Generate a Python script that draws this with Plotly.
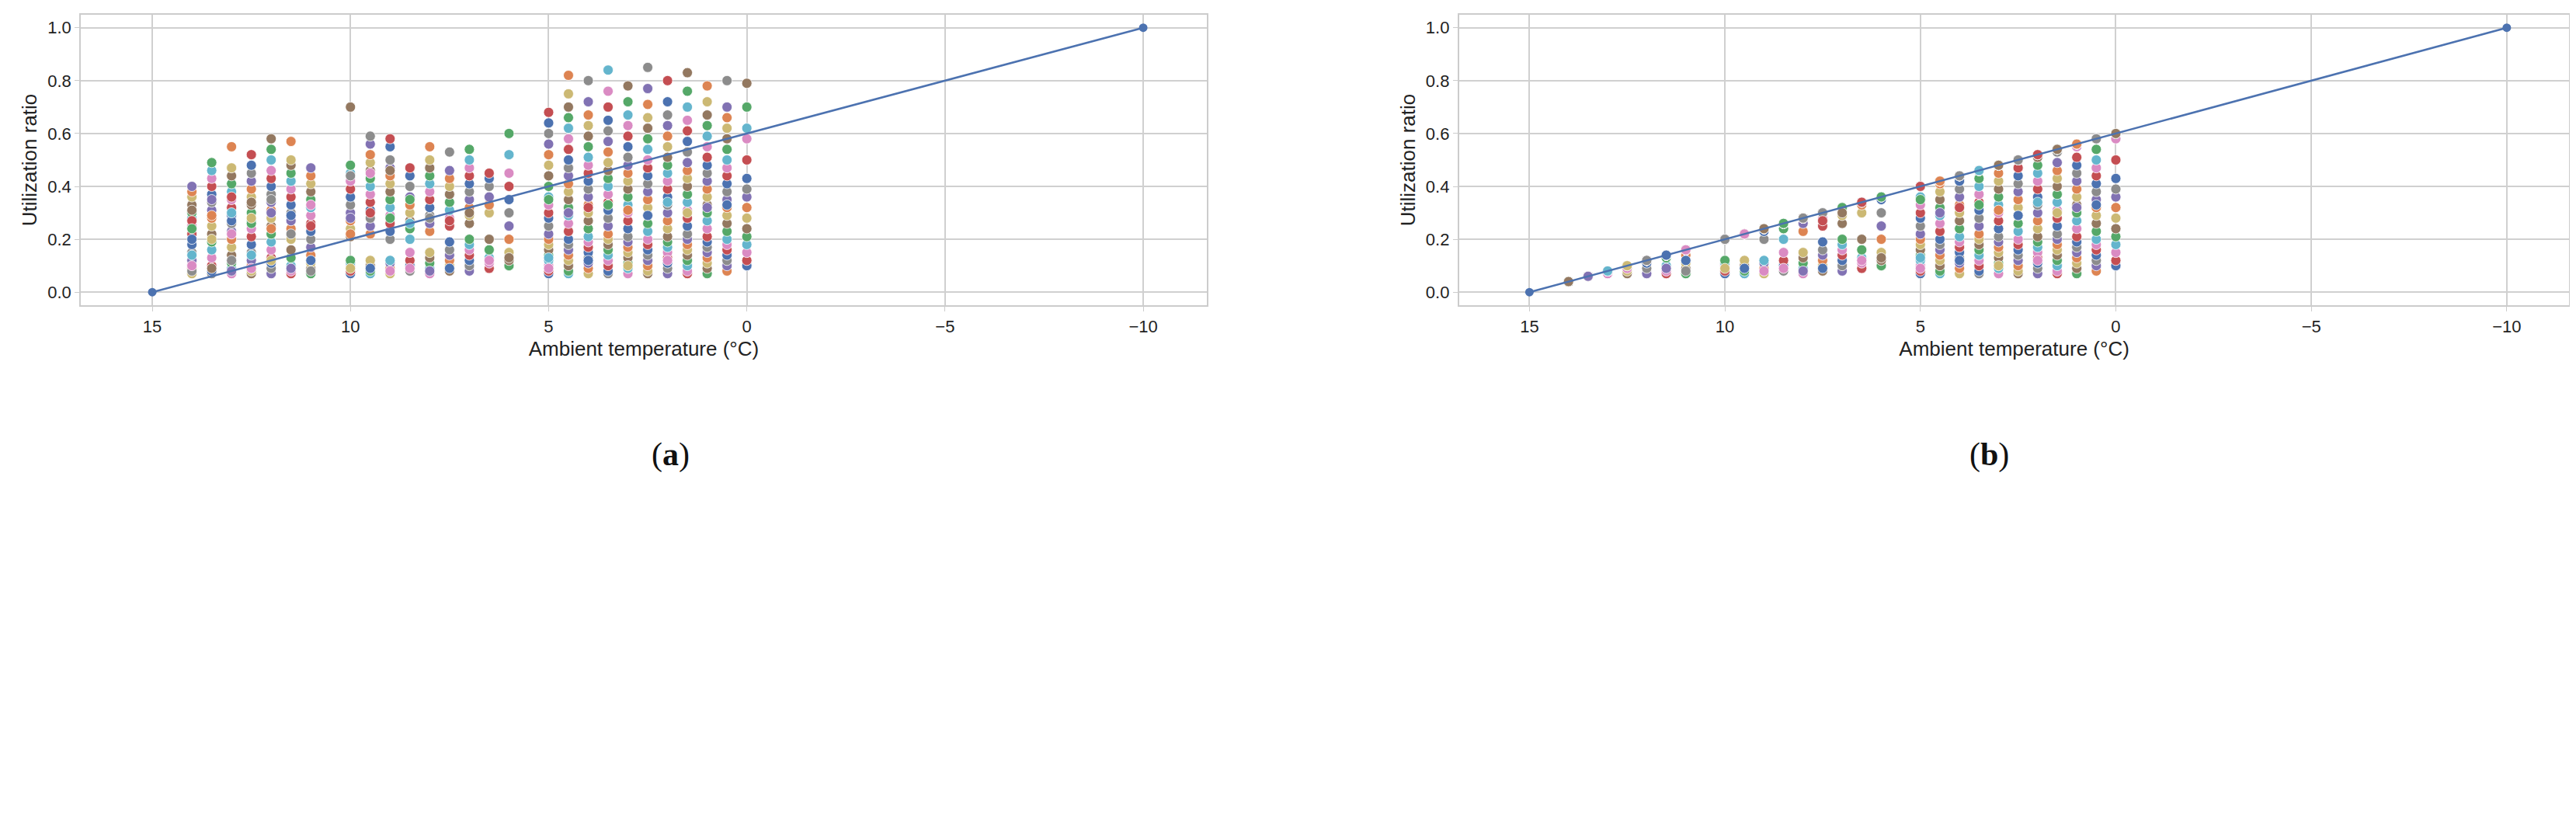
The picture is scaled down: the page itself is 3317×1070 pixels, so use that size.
import plotly.graph_objects as go
from plotly.subplots import make_subplots

temps = [14, 13.5, 13, 12.5, 12, 11.5, 11, 10, 9.5, 9, 8.5, 8, 7.5, 7, 6.5, 6,
         5, 4.5, 4, 3.5, 3, 2.5, 2, 1.5, 1, 0.5, 0]
ratios = [
 [0.07,0.09,0.12,0.15,0.18,0.22,0.25,0.28,0.3,0.33,0.36,0.38,0.40,0.08,0.2,0.27,0.1,0.14,0.24,0.31],
 [0.07,0.08,0.1,0.13,0.16,0.19,0.22,0.25,0.28,0.31,0.34,0.37,0.4,0.43,0.46,0.49,0.09,0.2,0.29,0.35],
 [0.07,0.09,0.11,0.14,0.17,0.2,0.23,0.26,0.29,0.32,0.35,0.38,0.41,0.44,0.47,0.55,0.08,0.12,0.27,0.36,0.22,0.3],
 [0.07,0.08,0.1,0.12,0.15,0.18,0.21,0.24,0.27,0.3,0.33,0.36,0.39,0.42,0.45,0.48,0.52,0.09,0.14,0.26,0.34,0.28],
 [0.07,0.09,0.11,0.13,0.16,0.19,0.22,0.25,0.28,0.31,0.34,0.37,0.4,0.43,0.46,0.5,0.54,0.58,0.12,0.24,0.3,0.35],
 [0.07,0.08,0.1,0.13,0.16,0.2,0.24,0.27,0.3,0.33,0.36,0.39,0.42,0.45,0.48,0.5,0.57,0.09,0.22,0.29],
 [0.07,0.09,0.11,0.14,0.17,0.2,0.23,0.26,0.29,0.32,0.35,0.38,0.41,0.44,0.47,0.08,0.12,0.25,0.33],
 [0.07,0.08,0.1,0.11,0.12,0.21,0.24,0.27,0.3,0.33,0.36,0.39,0.42,0.45,0.48,0.7,0.09,0.22,0.28,0.44],
 [0.07,0.08,0.1,0.12,0.22,0.25,0.28,0.31,0.34,0.37,0.4,0.43,0.46,0.49,0.52,0.56,0.59,0.09,0.3,0.45],
 [0.07,0.09,0.11,0.2,0.23,0.26,0.29,0.32,0.35,0.38,0.41,0.44,0.47,0.5,0.55,0.58,0.08,0.12,0.28,0.46],
 [0.08,0.1,0.12,0.15,0.2,0.24,0.27,0.3,0.33,0.36,0.4,0.44,0.47,0.09,0.26,0.35],
 [0.07,0.09,0.11,0.13,0.15,0.23,0.26,0.29,0.32,0.35,0.38,0.41,0.44,0.47,0.5,0.55,0.08,0.28],
 [0.08,0.1,0.12,0.14,0.16,0.19,0.25,0.28,0.31,0.34,0.37,0.4,0.43,0.46,0.53,0.09,0.27],
 [0.08,0.1,0.12,0.14,0.16,0.18,0.2,0.26,0.29,0.32,0.35,0.38,0.41,0.44,0.47,0.5,0.54,0.3],
 [0.09,0.11,0.13,0.16,0.2,0.3,0.33,0.36,0.4,0.43,0.45,0.12],
 [0.1,0.12,0.15,0.2,0.25,0.3,0.35,0.4,0.45,0.52,0.6,0.13],
 [0.07,0.08,0.1,0.12,0.14,0.16,0.18,0.2,0.22,0.25,0.28,0.3,0.33,0.36,0.4,0.44,0.48,0.52,0.56,0.6,0.64,0.68,0.09,0.13,0.35],
 [0.07,0.08,0.1,0.12,0.14,0.16,0.18,0.2,0.23,0.26,0.29,0.32,0.35,0.38,0.41,0.44,0.47,0.5,0.54,0.58,0.62,0.66,0.7,0.75,0.82,0.3],
 [0.07,0.09,0.11,0.13,0.15,0.17,0.19,0.21,0.24,0.27,0.3,0.33,0.36,0.39,0.42,0.45,0.48,0.51,0.55,0.59,0.63,0.67,0.72,0.8,0.12,0.32],
 [0.07,0.08,0.1,0.12,0.14,0.16,0.18,0.2,0.22,0.25,0.28,0.31,0.34,0.37,0.4,0.43,0.46,0.49,0.53,0.57,0.61,0.65,0.7,0.76,0.84,0.33],
 [0.07,0.09,0.11,0.13,0.15,0.17,0.19,0.21,0.24,0.27,0.3,0.33,0.36,0.39,0.42,0.45,0.48,0.51,0.55,0.59,0.63,0.67,0.72,0.78,0.1,0.31],
 [0.07,0.08,0.1,0.12,0.14,0.16,0.18,0.2,0.23,0.26,0.29,0.32,0.35,0.38,0.41,0.44,0.47,0.5,0.54,0.58,0.62,0.66,0.71,0.77,0.85,0.29],
 [0.07,0.09,0.11,0.13,0.15,0.17,0.19,0.21,0.24,0.27,0.3,0.33,0.36,0.39,0.42,0.45,0.48,0.51,0.55,0.59,0.63,0.67,0.72,0.8,0.12,0.34],
 [0.07,0.08,0.1,0.12,0.14,0.16,0.18,0.2,0.22,0.25,0.28,0.31,0.34,0.37,0.4,0.43,0.46,0.49,0.53,0.57,0.61,0.65,0.7,0.76,0.83,0.3],
 [0.07,0.09,0.11,0.13,0.15,0.17,0.19,0.21,0.24,0.27,0.3,0.33,0.36,0.39,0.42,0.45,0.48,0.51,0.55,0.59,0.63,0.67,0.72,0.78,0.32],
 [0.08,0.1,0.12,0.14,0.16,0.18,0.2,0.23,0.26,0.29,0.32,0.35,0.38,0.41,0.44,0.47,0.5,0.54,0.58,0.62,0.66,0.7,0.8,0.33],
 [0.1,0.12,0.15,0.18,0.21,0.24,0.28,0.32,0.36,0.39,0.43,0.5,0.58,0.62,0.7,0.79],
]
line_t = [15, -10]
line_r = [0.0, 1.0]
palette = ["#4C72B0","#DD8452","#55A868","#C44E52","#8172B3","#937860","#DA8BC3","#8C8C8C","#CCB974","#64B5CD"]

def limit(t):
    return (line_t[0] - t) / (line_t[0] - line_t[1])

fig = make_subplots(rows=1, cols=2, horizontal_spacing=0.1)
for col in (1, 2):
    xs, ys, cs = [], [], []
    for t, vals in zip(temps, ratios):
        for i, v in enumerate(vals):
            xs.append(t)
            ys.append(v if col == 1 else min(v, limit(t)))
            cs.append(palette[(i * 3 + int(t * 2)) % 10])
    fig.add_trace(go.Scatter(x=xs, y=ys, mode="markers",
        marker=dict(size=13, color=cs, line=dict(color="white", width=0.8)),
        showlegend=False), row=1, col=col)
    fig.add_trace(go.Scatter(x=line_t, y=line_r, mode="lines+markers",
        line=dict(color="#4C72B0", width=2.5), marker=dict(size=11, color="#4C72B0"),
        showlegend=False), row=1, col=col)

ax = dict(showgrid=True, gridcolor="#d0d0d0", gridwidth=1.5, zeroline=False,
          showline=True, linecolor="#cccccc", linewidth=2, mirror=True,
          ticks="outside", ticklen=6, tickcolor="#cccccc",
          tickfont=dict(size=22, color="#222"))
fig.update_xaxes(**ax, range=[16.8, -11.6], tickvals=[15,10,5,0,-5,-10],
                 ticktext=["15","10","5","0","\u22125","\u221210"],
                 title=dict(text="Ambient temperature (°C)", font=dict(size=26, color="#222"), standoff=8))
fig.update_yaxes(**ax, range=[-0.05, 1.05], tickvals=[0,0.2,0.4,0.6,0.8,1.0],
                 tickformat=".1f",
                 title=dict(text="Utilization ratio", font=dict(size=26, color="#222"), standoff=6))
fig.update_xaxes(domain=[0.029, 0.466], row=1, col=1)
fig.update_xaxes(domain=[0.564, 0.995], row=1, col=2)
fig.update_yaxes(domain=[0.64, 0.99])
for xp, lab in ((0.25, "a"), (0.778, "b")):
    fig.add_annotation(x=xp, y=0.46, xref="paper", yref="paper", showarrow=False,
        text=f"(<b>{lab}</b>)", font=dict(size=42, family="Liberation Serif", color="#111"))
fig.update_layout(width=3317, height=1070, plot_bgcolor="white", paper_bgcolor="white",
                  font=dict(family="Liberation Sans"), margin=dict(l=0, r=0, t=0, b=0))
fig.write_html("out.html")
